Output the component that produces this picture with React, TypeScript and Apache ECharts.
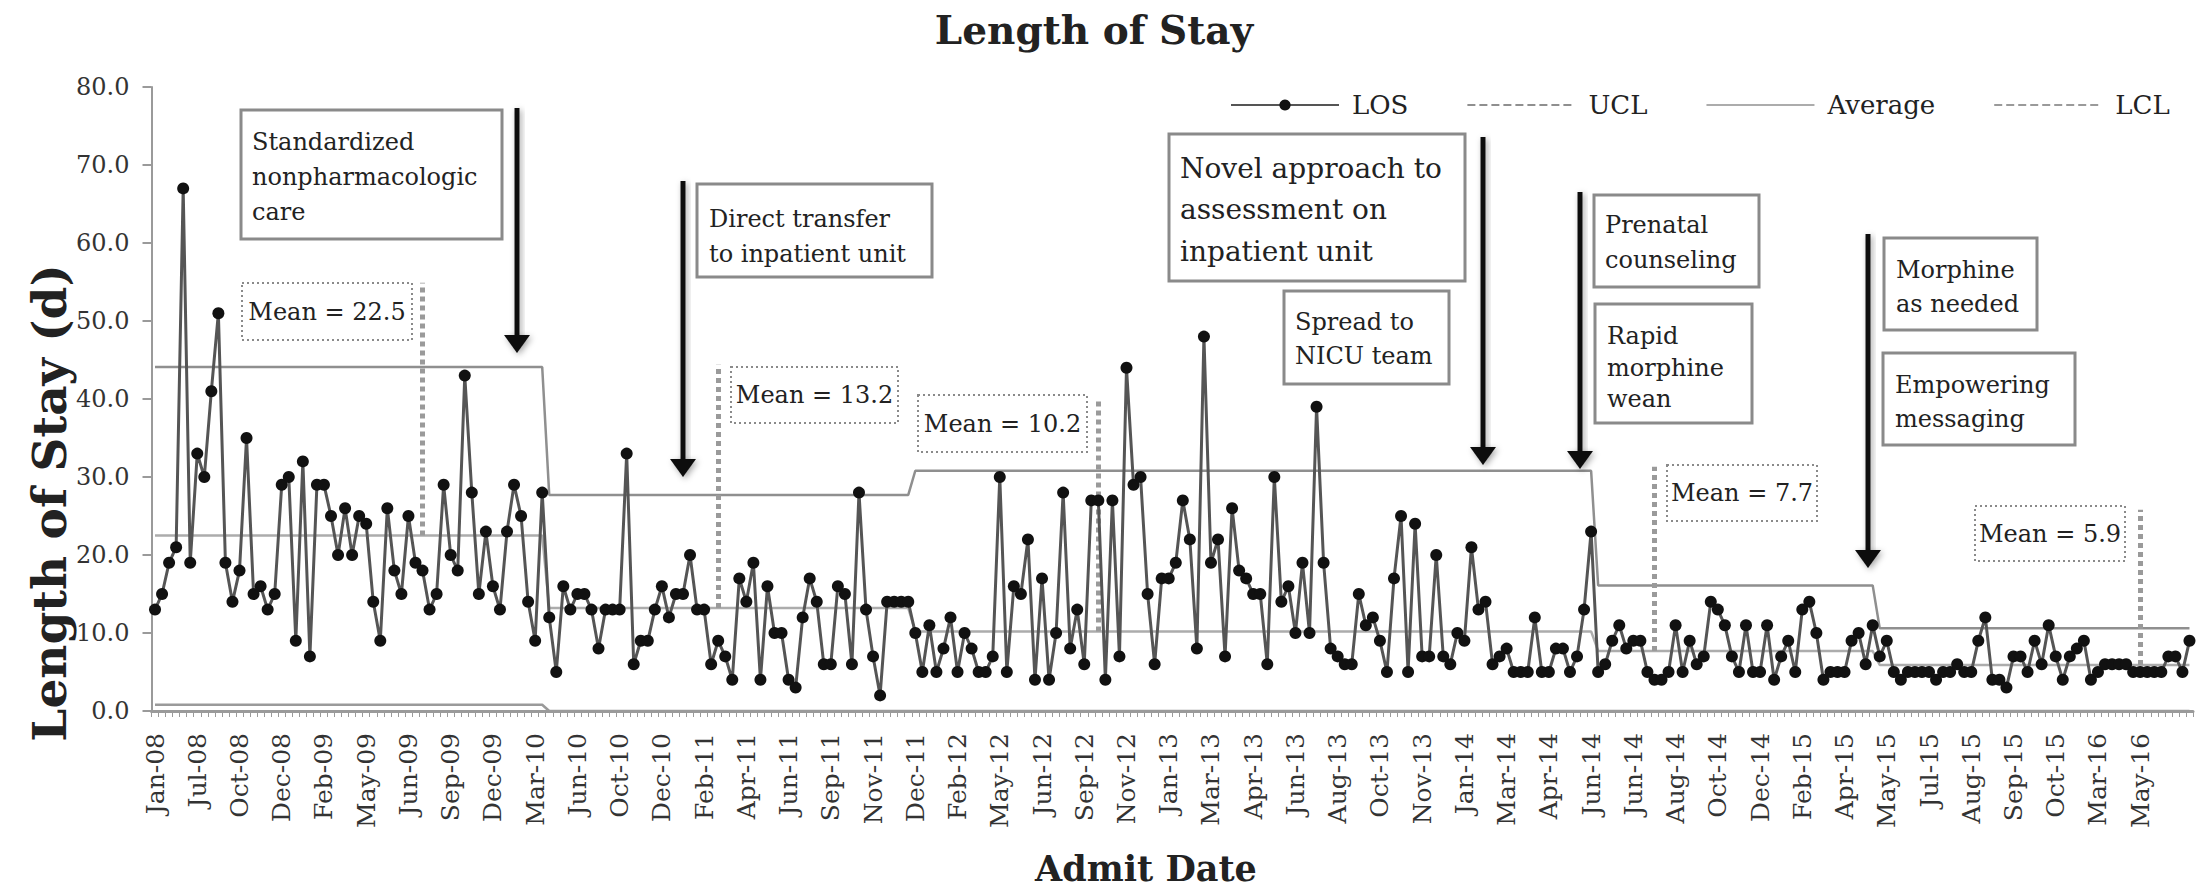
import React, { useEffect, useRef } from "react";
import * as echarts from "echarts";

const FONT = '"DejaVu Serif", serif';

const tickLabels = [
  "Jan-08", "Jul-08", "Oct-08", "Dec-08", "Feb-09", "May-09", "Jun-09", "Sep-09", "Dec-09", "Mar-10",
  "Jun-10", "Oct-10", "Dec-10", "Feb-11", "Apr-11", "Jun-11", "Sep-11", "Nov-11", "Dec-11", "Feb-12",
  "May-12", "Jun-12", "Sep-12", "Nov-12", "Jan-13", "Mar-13", "Apr-13", "Jun-13", "Aug-13", "Oct-13",
  "Nov-13", "Jan-14", "Mar-14", "Apr-14", "Jun-14", "Jun-14", "Aug-14", "Oct-14", "Dec-14", "Feb-15",
  "Apr-15", "May-15", "Jul-15", "Aug-15", "Sep-15", "Oct-15", "Mar-16", "May-16",
];
const LABEL_EVERY = 6;

// Length of stay (days), one value per patient, by phase
const losPhase1 = [
  13, 15, 19, 21, 67, 19, 33, 30, 41, 51, 19, 14, 18, 35, 15, 16, 13, 15, 29, 30,
  9, 32, 7, 29, 29, 25, 20, 26, 20, 25, 24, 14, 9, 26, 18, 15, 25, 19, 18, 13,
  15, 29, 20, 18, 43, 28, 15, 23, 16, 13, 23, 29, 25, 14, 9, 28,
];
const losPhase2 = [
  12, 5, 16, 13, 15, 15, 13, 8, 13, 13, 13, 33, 6, 9, 9, 13, 16, 12, 15, 15,
  20, 13, 13, 6, 9, 7, 4, 17, 14, 19, 4, 16, 10, 10, 4, 3, 12, 17, 14, 6,
  6, 16, 15, 6, 28, 13, 7, 2, 14, 14, 14, 14,
];
const losPhase3 = [
  10, 5, 11, 5, 8, 12, 5, 10, 8, 5, 5, 7, 30, 5, 16, 15, 22, 4, 17, 4,
  10, 28, 8, 13, 6, 27, 27, 4, 27, 7, 44, 29, 30, 15, 6, 17, 17, 19, 27, 22,
  8, 48, 19, 22, 7, 26, 18, 17, 15, 15, 6, 30, 14, 16, 10, 19, 10, 39, 19, 8,
  7, 6, 6, 15, 11, 12, 9, 5, 17, 25, 5, 24, 7, 7, 20, 7, 6, 10, 9, 21,
  13, 14, 6, 7, 8, 5, 5, 5, 12, 5, 5, 8, 8, 5, 7, 13, 23,
];
const losPhase4 = [
  5, 6, 9, 11, 8, 9, 9, 5, 4, 4, 5, 11, 5, 9, 6, 7, 14, 13, 11, 7,
  5, 11, 5, 5, 11, 4, 7, 9, 5, 13, 14, 10, 4, 5, 5, 5, 9, 10, 6, 11,
];
const losPhase5 = [
  7, 9, 5, 4, 5, 5, 5, 5, 4, 5, 5, 6, 5, 5, 9, 12, 4, 4, 3, 7,
  7, 5, 9, 6, 11, 7, 4, 7, 8, 9, 4, 5, 6, 6, 6, 6, 5, 5, 5, 5,
  5, 7, 7, 5, 9,
];
const losPhases = [losPhase1, losPhase2, losPhase3, losPhase4, losPhase5];

const phaseMeans = [22.5, 13.2, 10.2, 7.7, 5.9];
const phaseUCL = [44.1, 27.7, 30.8, 16.1, 10.6];
const phaseLCL = [0.8, 0, 0, 0, 0];
// position (patient index) and top value of the dotted "Mean" marker of each phase
const meanMarkerIndex = [38, 80, 134, 213, 282];
const meanMarkerTop = [54.9, 44.4, 40.0, 31.3, 25.8];

const los = losPhases.flat();
const categories = los.map((_, i) => String(i + 1));
const expand = (vals: number[]) =>
  losPhases.flatMap((p, k) => p.map(() => vals[k]));
const uclData = expand(phaseUCL);
const avgData = expand(phaseMeans);
const lclData = expand(phaseLCL);

type Note = { x: number; y: number; w: number; h: number; lines: string[]; size: number; tx: number; ty: number[] };
const notes: Note[] = [
  { x: 241, y: 110, w: 261, h: 129, lines: ["Standardized", "nonpharmacologic", "care"], size: 24, tx: 252, ty: [142, 177, 212] },
  { x: 697, y: 184, w: 235, h: 93, lines: ["Direct transfer", "to inpatient unit"], size: 24, tx: 709, ty: [219, 254] },
  { x: 1169, y: 134, w: 296, h: 147, lines: ["Novel approach to", "assessment on", "inpatient unit"], size: 28, tx: 1180, ty: [168, 209, 251] },
  { x: 1284, y: 291, w: 165, h: 93, lines: ["Spread to", "NICU team"], size: 24, tx: 1295, ty: [322, 356] },
  { x: 1594, y: 195, w: 165, h: 92, lines: ["Prenatal", "counseling"], size: 24, tx: 1605, ty: [225, 260] },
  { x: 1595, y: 304, w: 157, h: 119, lines: ["Rapid", "morphine", "wean"], size: 24, tx: 1607, ty: [336, 368, 399] },
  { x: 1884, y: 238, w: 153, h: 92, lines: ["Morphine", "as needed"], size: 24, tx: 1896, ty: [270, 304] },
  { x: 1883, y: 353, w: 192, h: 92, lines: ["Empowering", "messaging"], size: 24, tx: 1895, ty: [385, 419] },
];
const meanBoxes = [
  { x: 242, y: 283, w: 170, h: 57 },
  { x: 731, y: 367, w: 167, h: 56 },
  { x: 918, y: 395, w: 169, h: 57 },
  { x: 1667, y: 465, w: 150, h: 56 },
  { x: 1975, y: 506, w: 150, h: 55 },
];
const arrows = [
  { x: 517, top: 108, tip: 353 },
  { x: 683, top: 181, tip: 477 },
  { x: 1483, top: 137, tip: 465 },
  { x: 1580, top: 192, tip: 469 },
  { x: 1868, top: 234, tip: 568 },
];

function buildGraphics() {
  const els: any[] = [];
  const txt = (text: string, x: number, y: number, size: number, opts: any = {}) => ({
    type: "text",
    x,
    y,
    z: 110,
    ...opts.el,
    style: {
      text,
      font: `${opts.bold ? "bold " : ""}${size}px ${FONT}`,
      fill: "#222",
      align: opts.align || "left",
      verticalAlign: "middle",
      textAlign: opts.align || "left",
      textVerticalAlign: "middle",
    },
  });
  els.push(txt("Length of Stay", 1094, 30, 39, { bold: true, align: "center" }));
  els.push(txt("Admit Date", 1146, 868, 35, { bold: true, align: "center" }));
  els.push(txt("Length of Stay (d)", 49, 503, 47, { bold: true, align: "center", el: { rotation: Math.PI / 2 } }));

  notes.forEach((n) => {
    els.push({
      type: "rect",
      z: 100,
      shape: { x: n.x, y: n.y, width: n.w, height: n.h },
      style: { fill: "#fff", stroke: "#8a8a8a", lineWidth: 3 },
    });
    n.lines.forEach((l, i) => els.push(txt(l, n.tx, n.ty[i], n.size)));
  });
  meanBoxes.forEach((b, k) => {
    els.push({
      type: "rect",
      z: 100,
      shape: { x: b.x, y: b.y, width: b.w, height: b.h },
      style: { fill: "#fff", stroke: "#8a8a8a", lineWidth: 2, lineDash: [2, 3] },
    });
    els.push(txt(`Mean = ${phaseMeans[k].toFixed(1)}`, b.x + b.w / 2, b.y + b.h / 2, 24, { align: "center" }));
  });
  const shadow = { shadowBlur: 6, shadowColor: "rgba(0,0,0,0.35)", shadowOffsetX: 2, shadowOffsetY: 2 };
  arrows.forEach((a) => {
    els.push({
      type: "rect",
      z: 105,
      shape: { x: a.x - 2.5, y: a.top, width: 5, height: a.tip - a.top - 14 },
      style: { fill: "#111", ...shadow },
    });
    els.push({
      type: "polygon",
      z: 105,
      shape: { points: [[a.x - 13, a.tip - 18], [a.x + 13, a.tip - 18], [a.x, a.tip]] },
      style: { fill: "#111", ...shadow },
    });
  });
  return els;
}

export default function App() {
  const ref = useRef<HTMLDivElement>(null);
  useEffect(() => {
    if (!ref.current) return;
    const chart = echarts.init(ref.current, undefined, { renderer: "svg" });
    chart.setOption({
      animation: false,
      backgroundColor: "#fff",
      grid: { left: 151.5, right: 15, top: 87, bottom: 182, containLabel: false },
      legend: {
        left: 1225,
        top: 87,
        itemWidth: 108,
        itemHeight: 14,
        itemGap: 58,
        textStyle: { fontFamily: FONT, fontSize: 26, color: "#222", padding: [0, 0, 0, 8] },
        data: [
          { name: "LOS" },
          { name: "UCL", lineStyle: { type: "dashed" }, itemStyle: { opacity: 0 } },
          { name: "Average", itemStyle: { opacity: 0 } },
          { name: "LCL", lineStyle: { type: "dashed" }, itemStyle: { opacity: 0 } },
        ],
      },
      xAxis: {
        type: "category",
        data: categories,
        boundaryGap: true,
        axisLine: { lineStyle: { color: "#9a9a9a", width: 3 } },
        axisTick: { show: true, interval: 0, length: 6, lineStyle: { color: "#9a9a9a", width: 1 } },
        axisLabel: {
          interval: LABEL_EVERY - 1,
          rotate: 90,
          margin: 22,
          fontFamily: FONT,
          fontSize: 25,
          color: "#333",
          formatter: (_v: string, idx: number) =>
            idx % LABEL_EVERY === 0 ? tickLabels[idx / LABEL_EVERY] ?? "" : "",
        },
        splitLine: { show: false },
      },
      yAxis: {
        type: "value",
        min: 0,
        max: 80,
        interval: 10,
        axisLine: { show: true, lineStyle: { color: "#9a9a9a", width: 2 } },
        axisTick: { show: true, length: 9, lineStyle: { color: "#9a9a9a", width: 2 } },
        axisLabel: { formatter: (v: number) => v.toFixed(1), fontFamily: FONT, fontSize: 24, color: "#333", margin: 22 },
        splitLine: { show: false },
      },
      series: [
        {
          name: "UCL",
          type: "line",
          data: uclData,
          symbol: "none",
          itemStyle: { color: "#8f8f8f" },
          lineStyle: { color: "#8f8f8f", width: 2.5 },
          z: 2,
        },
        {
          name: "Average",
          type: "line",
          data: avgData,
          symbol: "none",
          itemStyle: { color: "#acacac" },
          lineStyle: { color: "#acacac", width: 2.5 },
          z: 2,
          markLine: {
            silent: true,
            symbol: "none",
            label: { show: false },
            lineStyle: { color: "#9a9a9a", width: 5, type: [5, 4] },
            data: meanMarkerIndex.map((idx, k) => [
              { coord: [idx, phaseMeans[k]] },
              { coord: [idx, meanMarkerTop[k]] },
            ]),
          },
        },
        {
          name: "LCL",
          type: "line",
          data: lclData,
          symbol: "none",
          itemStyle: { color: "#9a9a9a" },
          lineStyle: { color: "#9a9a9a", width: 2.5 },
          z: 2,
        },
        {
          name: "LOS",
          type: "line",
          data: los,
          symbol: "circle",
          symbolSize: 12,
          showSymbol: true,
          showAllSymbol: true,
          itemStyle: { color: "#111" },
          lineStyle: { color: "#555", width: 3 },
          z: 5,
        },
      ],
      graphic: buildGraphics(),
    });
    return () => chart.dispose();
  }, []);
  return (
    <div
      ref={ref}
      style={{ position: "fixed", left: 0, top: 0, width: 2208, height: 893, background: "#fff" }}
    />
  );
}
